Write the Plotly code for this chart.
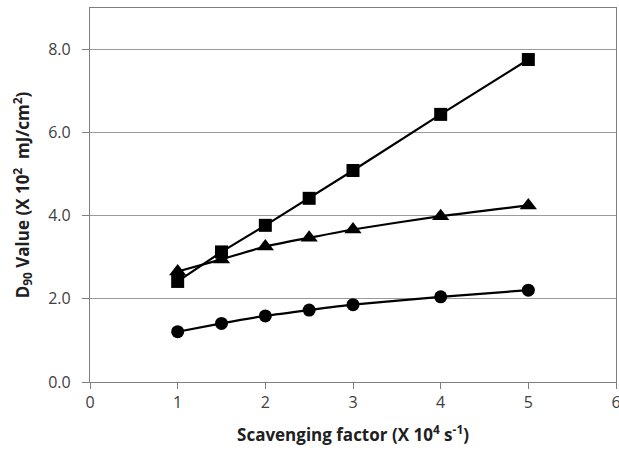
import plotly.graph_objects as go

x_vals = [1, 1.5, 2, 2.5, 3, 4, 5]
squares = [2.42, 3.13, 3.77, 4.42, 5.09, 6.44, 7.76]
triangles = [2.66, 2.95, 3.26, 3.47, 3.67, 3.99, 4.25]
circles = [1.21, 1.41, 1.59, 1.73, 1.86, 2.05, 2.21]

x_ticks = [0, 1, 2, 3, 4, 5, 6]
y_ticks = [0, 2, 4, 6, 8]
y_tick_labels = ["0.0", "2.0", "4.0", "6.0", "8.0"]

fig = go.Figure()
series = [
    (squares, "square", 13, "linear"),
    (triangles, "triangle-up", 15, "spline"),
    (circles, "circle", 13, "spline"),
]
for ys, sym, size, shape in series:
    fig.add_trace(go.Scatter(
        x=x_vals, y=ys, mode="lines+markers",
        line=dict(color="black", width=2.2, shape=shape, smoothing=0.6),
        marker=dict(symbol=sym, size=size, color="black"),
        showlegend=False,
    ))

font_family = "Open Sans, Liberation Sans, sans-serif"
fig.update_layout(
    width=619, height=451,
    margin=dict(l=90, r=3, t=8, b=69, autoexpand=False),
    paper_bgcolor="white", plot_bgcolor="white",
    font=dict(family=font_family, size=16, color="#404040"),
)
fig.update_xaxes(
    range=[0, 6], tickvals=x_ticks, ticktext=[str(v) for v in x_ticks],
    automargin=False,
    showgrid=False, zeroline=False,
    showline=True, linecolor="#7f7f7f", linewidth=1.2, mirror=True,
    ticks="outside", ticklen=6, tickcolor="#7f7f7f",
    ticklabeloverflow="allow",
    tickfont=dict(size=16, color="#404040"),
    title=dict(text="<b>Scavenging factor (X 10<sup>4</sup> s<sup>-1</sup>)</b>",
               font=dict(size=17, color="#202020"), standoff=16),
)
fig.update_yaxes(
    range=[0, 9], tickvals=y_ticks, ticktext=y_tick_labels,
    automargin=False,
    showgrid=True, gridcolor="#9a9a9a", gridwidth=1.2, zeroline=False,
    showline=True, linecolor="#7f7f7f", linewidth=1.2, mirror=True,
    ticks="outside", ticklen=7, tickcolor="#7f7f7f",
    ticklabelstandoff=8,
    tickfont=dict(size=16, color="#404040"),
    title=dict(text="<b>D<sub>90</sub> Value (X 10<sup>2</sup>  mJ/cm<sup>2</sup>)</b>",
               font=dict(size=17, color="#202020"), standoff=14),
)

fig.write_html("out.html")
